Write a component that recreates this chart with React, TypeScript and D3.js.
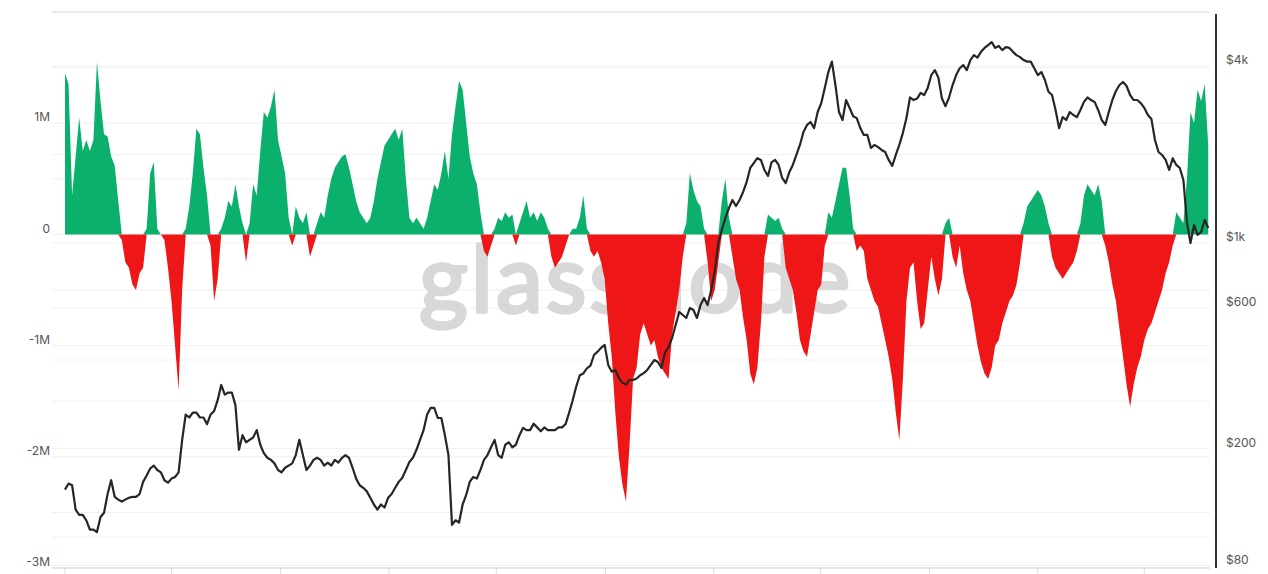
import React, { useEffect, useRef } from 'react';
import * as d3 from 'd3';

// 4-day samples starting 2019-01-01
const START = new Date(2019, 0, 1);
const STEP_DAYS = 4;

// net change, in millions
const flowM = [
  1.45, 1.35, 0.35, 0.7, 1.05, 0.75, 0.85, 0.75, 0.85, 1.55,
  1.2, 0.9, 0.88, 0.7, 0.62, 0.3, -0.05, -0.25, -0.3, -0.45,
  -0.5, -0.35, -0.3, 0.05, 0.55, 0.65, 0.05, 0.0, -0.05, -0.3,
  -0.6, -1.0, -1.4, -0.5, 0.05, 0.25, 0.55, 0.95, 0.9, 0.6,
  0.35, -0.1, -0.6, -0.4, 0.05, 0.15, 0.3, 0.25, 0.45, 0.25,
  0.1, -0.25, 0.1, 0.45, 0.35, 0.75, 1.1, 1.05, 1.15, 1.3,
  0.85, 0.7, 0.55, 0.15, -0.1, 0.25, 0.15, 0.1, 0.2, -0.2,
  -0.1, 0.1, 0.2, 0.15, 0.35, 0.5, 0.6, 0.65, 0.7, 0.72,
  0.6, 0.45, 0.3, 0.2, 0.15, 0.1, 0.15, 0.3, 0.5, 0.65,
  0.8, 0.85, 0.9, 0.95, 0.85, 0.95, 0.5, 0.15, 0.1, 0.15,
  0.1, 0.05, 0.15, 0.3, 0.45, 0.4, 0.55, 0.75, 0.5, 0.9,
  1.15, 1.38, 1.3, 1.0, 0.7, 0.55, 0.45, 0.2, -0.15, -0.2,
  -0.1, 0.05, 0.15, 0.12, 0.2, 0.15, 0.18, -0.1, 0.1, 0.2,
  0.3, 0.15, 0.2, 0.12, 0.2, 0.15, 0.05, -0.2, -0.3, -0.25,
  -0.2, -0.1, 0.0, 0.05, 0.05, 0.15, 0.35, 0.05, -0.15, -0.2,
  -0.15, -0.25, -0.4, -0.8, -1.1, -1.6, -2.0, -2.25, -2.4, -1.9,
  -1.3, -1.2, -0.9, -0.8, -0.9, -1.0, -0.95, -1.1, -1.2, -1.25,
  -1.3, -0.9, -0.7, -0.5, -0.2, 0.1, 0.55, 0.4, 0.3, 0.25,
  0.05, -0.25, -0.6, -0.5, -0.25, 0.3, 0.5, 0.15, -0.2, -0.4,
  -0.5, -0.75, -0.95, -1.25, -1.35, -1.2, -0.8, -0.2, 0.18, 0.15,
  0.12, 0.15, 0.05, -0.3, -0.4, -0.5, -0.7, -0.95, -1.05, -1.1,
  -0.9, -0.7, -0.5, -0.45, -0.1, 0.2, 0.15, 0.3, 0.45, 0.6,
  0.6, 0.35, 0.05, -0.15, -0.1, -0.15, -0.4, -0.5, -0.6, -0.65,
  -0.8, -0.95, -1.1, -1.3, -1.6, -1.85, -1.3, -0.6, -0.3, -0.25,
  -0.6, -0.85, -0.8, -0.5, -0.2, -0.4, -0.55, -0.4, 0.1, 0.15,
  -0.2, -0.3, -0.1, -0.35, -0.5, -0.6, -0.8, -1.0, -1.15, -1.25,
  -1.3, -1.2, -1.0, -0.95, -0.8, -0.7, -0.6, -0.55, -0.45, -0.25,
  0.1, 0.25, 0.3, 0.35, 0.4, 0.35, 0.25, 0.1, -0.2, -0.3,
  -0.35, -0.4, -0.35, -0.3, -0.25, -0.15, 0.1, 0.35, 0.45, 0.4,
  0.35, 0.45, 0.3, -0.1, -0.25, -0.45, -0.6, -0.85, -1.1, -1.35,
  -1.55, -1.35, -1.2, -1.1, -0.95, -0.85, -0.8, -0.7, -0.6, -0.5,
  -0.35, -0.25, -0.1, 0.2, 0.15, 0.1, 0.5, 1.1, 1.0, 1.3,
  1.2, 1.35, 0.8,
];

// price, USD
const price = [
  145, 152, 150, 124, 119, 119, 114, 106, 106, 104,
  117, 121, 140, 156, 137, 134, 132, 134, 136, 137,
  137, 140, 154, 162, 171, 175, 169, 166, 156, 153,
  158, 160, 166, 214, 261, 255, 265, 265, 255, 255,
  242, 261, 268, 292, 329, 305, 310, 310, 281, 198,
  222, 210, 214, 218, 231, 206, 193, 186, 183, 178,
  169, 166, 172, 175, 178, 190, 214, 190, 169, 175,
  183, 186, 183, 175, 179, 175, 183, 179, 186, 190,
  186, 172, 158, 150, 147, 143, 136, 129, 124, 129,
  126, 136, 140, 147, 154, 159, 169, 180, 186, 198,
  214, 231, 261, 275, 275, 254, 254, 222, 190, 110,
  114, 112, 129, 139, 154, 160, 158, 169, 183, 190,
  202, 214, 190, 186, 206, 210, 202, 206, 222, 235,
  231, 231, 243, 236, 229, 236, 231, 231, 231, 236,
  236, 242, 265, 292, 325, 355, 360, 375, 383, 416,
  427, 440, 450, 385, 365, 370, 348, 335, 330, 342,
  342, 346, 355, 361, 370, 385, 400, 394, 376, 424,
  443, 476, 526, 582, 569, 556, 601, 592, 556, 615,
  650, 615, 692, 797, 1000, 1108, 1216, 1315, 1401, 1336,
  1401, 1492, 1614, 1800, 1870, 1943, 1917, 1772, 1690, 1880,
  1917, 1843, 1665, 1600, 1740, 1843, 1993, 2156, 2385, 2521,
  2580, 2460, 2790, 2990, 3370, 3815, 4140, 3447, 2790, 2621,
  3065, 2880, 2700, 2660, 2460, 2331, 2331, 2105, 2156, 2120,
  2073, 2040, 1917, 1830, 1993, 2156, 2370, 2660, 3127, 3065,
  3100, 3240, 3188, 3370, 3727, 3875, 3650, 3100, 2920, 3127,
  3447, 3727, 3930, 4030, 3875, 4190, 4357, 4270, 4470, 4610,
  4715, 4825, 4610, 4680, 4530, 4640, 4610, 4470, 4357, 4290,
  4190, 4140, 4140, 3930, 3727, 3815, 3585, 3270, 3188, 2835,
  2460, 2680, 2621, 2790, 2726, 2680, 2835, 3020, 3127, 3065,
  3020, 2835, 2621, 2521, 2790, 3065, 3290, 3447, 3530, 3420,
  3188, 3065, 3065, 2990, 2880, 2726, 2640, 2242, 2040, 1993,
  1917, 1772, 1943, 1843, 1800, 1639, 1180, 1000, 1152, 1065,
  1090, 1198, 1125,
];

const leftGrid = [-3, -2.5, -2, -1.5, -1, -0.5, 0, 0.5, 1, 1.5, 2];
const leftLabels = [1, 0, -1, -2, -3];
const rightGrid = [80, 100, 200, 400, 600, 1000, 2000, 4000];
const rightLabels = [
  { v: 4000, t: '$4k' },
  { v: 1000, t: '$1k' },
  { v: 600, t: '$600' },
  { v: 200, t: '$200' },
  { v: 80, t: '$80' },
];

const W = 1268;
const H = 574;

const App: React.FC = () => {
  const svgRef = useRef<SVGSVGElement>(null);

  useEffect(() => {
    if (!svgRef.current) return;
    const svg = d3.select(svgRef.current);
    svg.selectAll('*').remove();

    const plot = { left: 65, right: 1210, top: 12, bottom: 568 };
    const gridLeft = 52;

    const dates = flowM.map((_, i) => d3.timeDay.offset(START, i * STEP_DAYS));
    const endDate = d3.timeDay.offset(START, 1290);

    const x = d3.scaleTime().domain([START, endDate]).range([plot.left, plot.right]);
    const yL = d3.scaleLinear().domain([-3, 2]).range([plot.bottom, plot.top]);
    const yR = d3.scaleLog().domain([78.45, 6107]).range([plot.bottom, plot.top]);

    // grid
    const grid = svg.append('g');
    grid.selectAll('.gl')
      .data(leftGrid)
      .join('line')
      .attr('x1', gridLeft).attr('x2', plot.right)
      .attr('y1', d => yL(d)).attr('y2', d => yL(d))
      .attr('stroke', d => (d === 2 ? '#e4e4e4' : '#efefef'))
      .attr('stroke-width', d => (d === 2 ? 1.5 : 1));
    grid.selectAll('.gr')
      .data(rightGrid)
      .join('line')
      .attr('x1', gridLeft).attr('x2', plot.right)
      .attr('y1', d => yR(d)).attr('y2', d => yR(d))
      .attr('stroke', '#f1f1f1')
      .attr('stroke-width', 1);

    // bottom axis line + ticks
    svg.append('line')
      .attr('x1', gridLeft).attr('x2', plot.right)
      .attr('y1', plot.bottom).attr('y2', plot.bottom)
      .attr('stroke', '#e2e2e2').attr('stroke-width', 1.5);
    const xTicks = d3.timeMonth.every(4)!.range(START, endDate);
    svg.selectAll('.xt')
      .data(xTicks)
      .join('line')
      .attr('x1', d => x(d)).attr('x2', d => x(d))
      .attr('y1', plot.bottom).attr('y2', H)
      .attr('stroke', '#dcdcdc').attr('stroke-width', 1);

    // watermark
    svg.append('text')
      .attr('x', 636)
      .attr('y', 312)
      .attr('text-anchor', 'middle')
      .attr('font-family', 'Lato, "Open Sans", sans-serif')
      .attr('font-size', 94)
      .attr('font-weight', 400)
      .attr('fill', '#d8d8d8')
      .attr('stroke', '#d8d8d8')
      .attr('stroke-width', 3.5)
      .attr('stroke-linejoin', 'round')
      .attr('letter-spacing', '3px')
      .text('glassnode');

    // flow areas
    const pos = d3.area<number>()
      .x((_, i) => x(dates[i]))
      .y0(yL(0))
      .y1(d => yL(Math.max(d, 0)));
    const neg = d3.area<number>()
      .x((_, i) => x(dates[i]))
      .y0(yL(0))
      .y1(d => yL(Math.min(d, 0)));

    svg.append('path').attr('d', pos(flowM) || '').attr('fill', '#0bb06c');
    svg.append('path').attr('d', neg(flowM) || '').attr('fill', '#ee1616');

    // price line
    const line = d3.line<number>()
      .x((_, i) => x(dates[i]))
      .y(d => yR(d));
    svg.append('path')
      .attr('d', line(price) || '')
      .attr('fill', 'none')
      .attr('stroke', '#262626')
      .attr('stroke-width', 2.2)
      .attr('stroke-linejoin', 'round');

    // right axis line
    svg.append('line')
      .attr('x1', 1216).attr('x2', 1216)
      .attr('y1', 14).attr('y2', plot.bottom)
      .attr('stroke', '#333').attr('stroke-width', 2);

    // labels
    const fmtM = (v: number) => (v === 0 ? '0' : `${v}M`);
    svg.selectAll('.ll')
      .data(leftLabels)
      .join('text')
      .attr('x', 50)
      .attr('y', d => yL(d) - 6)
      .attr('dy', '0.35em')
      .attr('text-anchor', 'end')
      .attr('font-family', 'Inter, "Noto Sans", sans-serif')
      .attr('font-size', 12)
      .attr('fill', '#555')
      .text(d => fmtM(d));

    svg.selectAll('.rl')
      .data(rightLabels)
      .join('text')
      .attr('x', 1226)
      .attr('y', d => yR(d.v) - 6)
      .attr('dy', '0.35em')
      .attr('text-anchor', 'start')
      .attr('font-family', 'Inter, "Noto Sans", sans-serif')
      .attr('font-size', 12)
      .attr('fill', '#555')
      .text(d => d.t);
  }, []);

  return (
    <svg
      ref={svgRef}
      width={W}
      height={H}
      viewBox={`0 0 ${W} ${H}`}
      style={{ position: 'absolute', left: 0, top: 0, background: '#fff' }}
    />
  );
};

export default App;
